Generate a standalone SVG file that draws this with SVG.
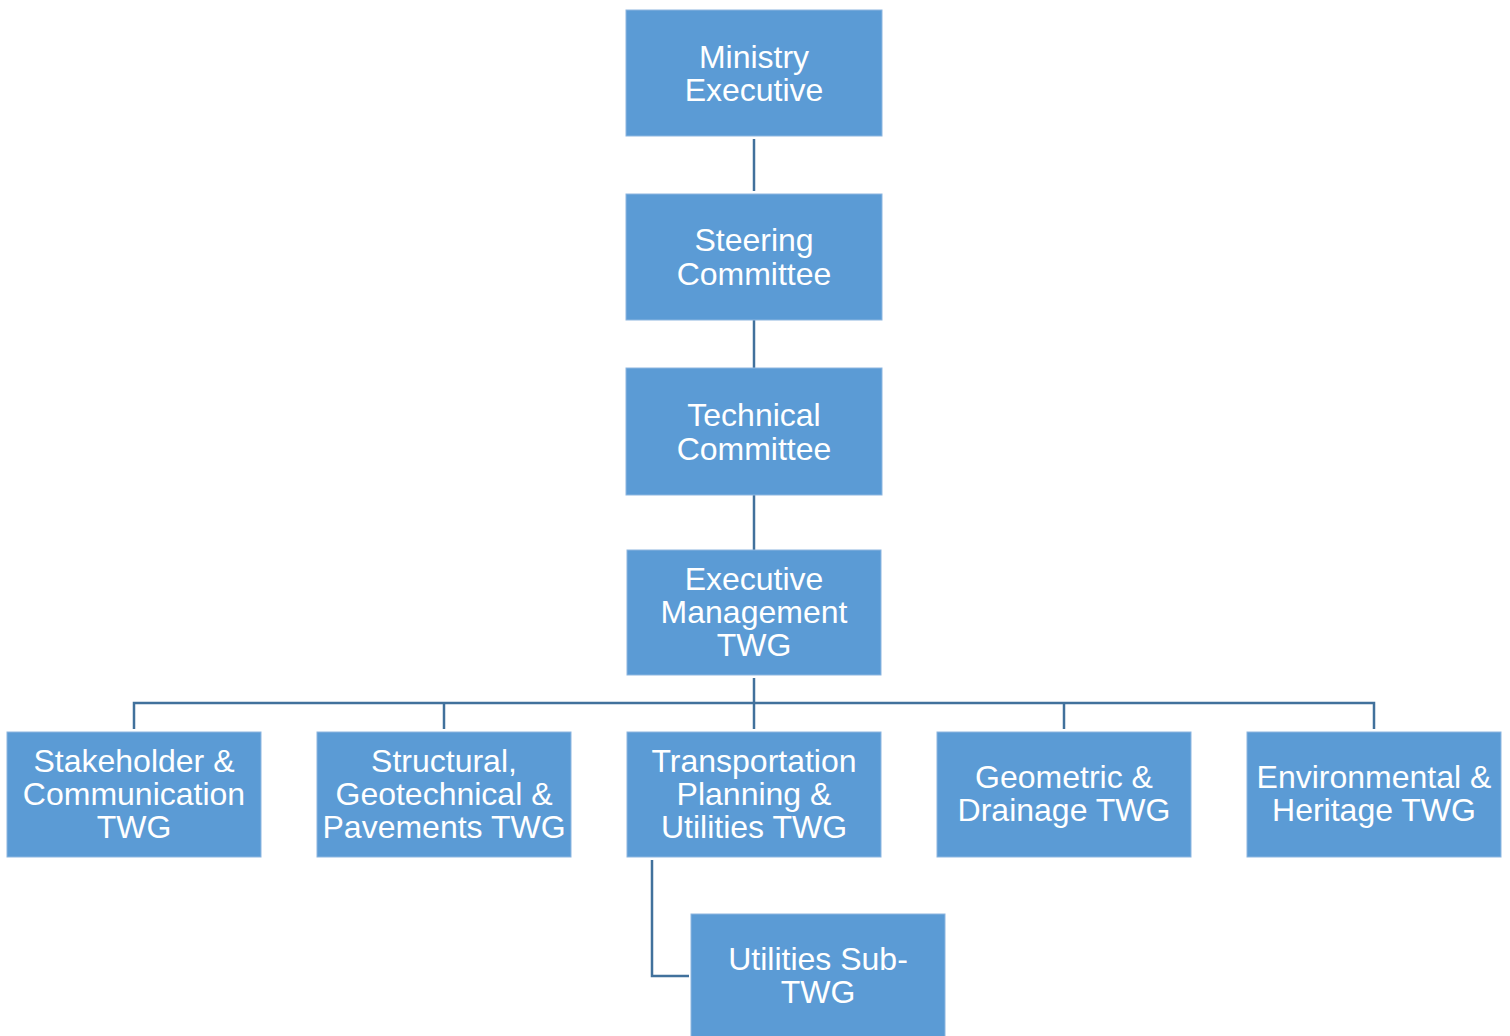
<svg xmlns="http://www.w3.org/2000/svg" width="1510" height="1036" viewBox="0 0 1510 1036">
<style>
.box{fill:#5B9BD5;stroke:#8DB6E0;stroke-width:1}
.t{font-family:"Liberation Sans",Arial,sans-serif;font-size:32px;fill:#fff;text-anchor:middle}
.c{fill:none;stroke:#41719C;stroke-width:2.5}
</style>
<rect width="1510" height="1036" fill="#fff"/>
<g id="connectors">
<path class="c" d="M754 139V191"/>
<path class="c" d="M754 320V368"/>
<path class="c" d="M754 495V550"/>
<path class="c" d="M754 678V729"/>
<path class="c" d="M134 729V703H1374V729"/>
<path class="c" d="M444 703V729"/>
<path class="c" d="M1064 703V729"/>
<path class="c" d="M652 860V976H689"/>
</g>
<g id="n1"><rect class="box" x="626" y="10" width="256" height="126"/><text class="t" x="754" y="68">Ministry</text><text class="t" x="754" y="101">Executive</text></g>
<g id="n2"><rect class="box" x="626" y="194" width="256" height="126"/><text class="t" x="754" y="251">Steering</text><text class="t" x="754" y="285">Committee</text></g>
<g id="n3"><rect class="box" x="626" y="368" width="256" height="127"/><text class="t" x="754" y="426">Technical</text><text class="t" x="754" y="460">Committee</text></g>
<g id="n4"><rect class="box" x="627" y="550" width="254" height="125"/><text class="t" x="754" y="590">Executive</text><text class="t" x="754" y="623">Management</text><text class="t" x="754" y="656">TWG</text></g>
<g id="n5"><rect class="box" x="7" y="732" width="254" height="125"/><text class="t" x="134" y="772">Stakeholder &amp;</text><text class="t" x="134" y="805">Communication</text><text class="t" x="134" y="838">TWG</text></g>
<g id="n6"><rect class="box" x="317" y="732" width="254" height="125"/><text class="t" x="444" y="772">Structural,</text><text class="t" x="444" y="805">Geotechnical &amp;</text><text class="t" x="444" y="838">Pavements TWG</text></g>
<g id="n7"><rect class="box" x="627" y="732" width="254" height="125"/><text class="t" x="754" y="772">Transportation</text><text class="t" x="754" y="805">Planning &amp;</text><text class="t" x="754" y="838">Utilities TWG</text></g>
<g id="n8"><rect class="box" x="937" y="732" width="254" height="125"/><text class="t" x="1064" y="788">Geometric &amp;</text><text class="t" x="1064" y="821">Drainage TWG</text></g>
<g id="n9"><rect class="box" x="1247" y="732" width="254" height="125"/><text class="t" x="1374" y="788">Environmental &amp;</text><text class="t" x="1374" y="821">Heritage TWG</text></g>
<g id="n10"><rect class="box" x="691" y="914" width="254" height="125"/><text class="t" x="818" y="970">Utilities Sub-</text><text class="t" x="818" y="1003">TWG</text></g>
</svg>
